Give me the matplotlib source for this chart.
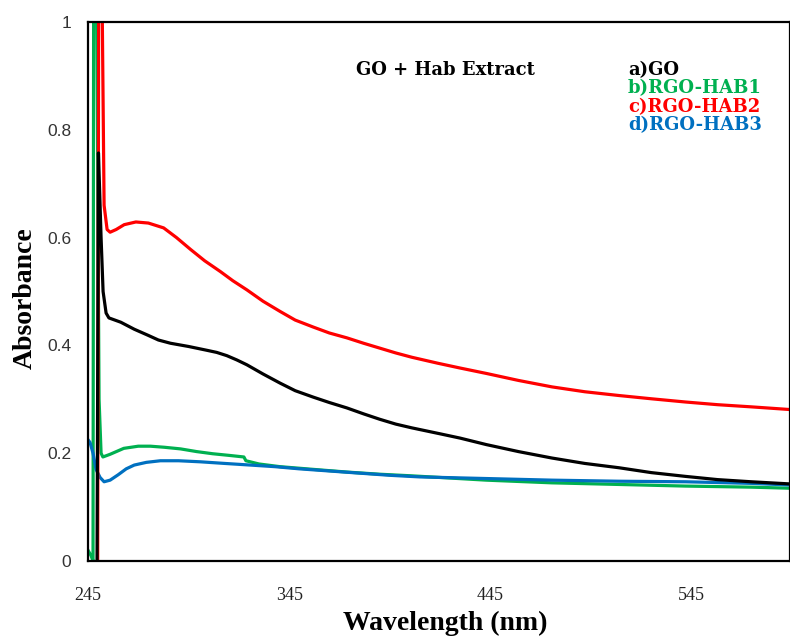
import matplotlib
matplotlib.use("Agg")
import matplotlib.pyplot as plt

# Wavelength (nm) / absorbance
go_wl = [249.5, 250.2, 251.5, 252.5, 254.0, 255.4, 261.3, 268.0, 274.7, 280.0, 286.0, 295.0,
         304.0, 309.0, 314.0, 319.0, 324.0, 332.0, 340.5, 348.0, 357.0, 365.0, 373.7, 382.0,
         390.0, 398.0, 406.0, 420.0, 430.0, 443.0, 459.0, 475.7, 492.0, 509.0, 525.0, 542.0,
         558.0, 574.7, 594.0]
go_abs = [0.0, 0.757, 0.60, 0.50, 0.46, 0.451, 0.443, 0.430, 0.419, 0.410, 0.404, 0.398,
          0.391, 0.387, 0.381, 0.373, 0.364, 0.347, 0.330, 0.316, 0.304, 0.294, 0.284, 0.273,
          0.263, 0.254, 0.247, 0.236, 0.228, 0.216, 0.203, 0.191, 0.181, 0.173, 0.164, 0.157,
          0.151, 0.147, 0.143]

hab1_wl = [245.0, 246.5, 247.5, 247.8, 249.3, 250.5, 251.5, 252.4, 256.0, 262.8, 270.0, 276.0,
           283.0, 291.0, 299.0, 307.0, 315.0, 322.5, 323.5, 330.0, 340.5, 357.0, 373.7, 390.0,
           406.0, 443.0, 475.7, 509.0, 542.0, 575.0, 594.0]
hab1_abs = [0.02, 0.01, 0.0, 1.05, 1.05, 0.30, 0.20, 0.193, 0.198, 0.209, 0.213, 0.213,
            0.211, 0.208, 0.203, 0.199, 0.196, 0.193, 0.186, 0.180, 0.175, 0.170, 0.165, 0.161,
            0.158, 0.150, 0.145, 0.142, 0.139, 0.137, 0.135]

hab2_wl = [249.8, 250.3, 252.0, 253.0, 254.5, 256.0, 259.0, 263.0, 268.8, 275.0, 282.6, 289.0,
           296.0, 303.0, 310.8, 317.0, 324.0, 332.0, 340.5, 348.0, 357.0, 365.0, 373.7, 382.0,
           390.0, 398.0, 406.0, 418.8, 430.0, 443.0, 459.0, 475.7, 492.0, 509.0, 525.0, 542.0,
           558.0, 574.7, 594.0]
hab2_abs = [0.0, 1.05, 1.05, 0.66, 0.615, 0.610, 0.615, 0.624, 0.629, 0.627, 0.618, 0.600,
            0.578, 0.557, 0.537, 0.520, 0.503, 0.482, 0.463, 0.447, 0.434, 0.423, 0.414, 0.404,
            0.395, 0.386, 0.378, 0.367, 0.358, 0.348, 0.335, 0.323, 0.314, 0.307, 0.301, 0.295,
            0.290, 0.286, 0.281]

hab3_wl = [245.0, 246.0, 247.5, 249.0, 251.0, 253.0, 256.0, 260.0, 264.0, 268.0, 274.0, 281.0,
           290.0, 301.0, 313.0, 325.7, 338.0, 350.0, 365.0, 380.0, 395.0, 410.0, 443.0, 475.7,
           509.0, 542.0, 575.0, 594.0]
hab3_abs = [0.225, 0.22, 0.20, 0.17, 0.155, 0.147, 0.150, 0.160, 0.171, 0.178, 0.183, 0.186,
            0.186, 0.184, 0.181, 0.178, 0.175, 0.171, 0.167, 0.163, 0.159, 0.156, 0.153, 0.150,
            0.148, 0.147, 0.144, 0.141]

x_ticks = [245, 345, 445, 545]
y_ticks = [0, 0.2, 0.4, 0.6, 0.8, 1]
y_tick_labels = ["0", "0.2", "0.4", "0.6", "0.8", "1"]

legend_labels = ["a)GO", "b)RGO-HAB1", "c)RGO-HAB2", "d)RGO-HAB3"]
COLORS = {"go": "#000000", "hab1": "#00B050", "hab2": "#FF0000", "hab3": "#0070C0"}
SERIF = ["Liberation Serif", "DejaVu Serif"]
WIDE_SERIF = ["DejaVu Serif"]

fig = plt.figure(figsize=(7.9, 6.36), dpi=100)
ax = fig.add_axes([88 / 790, 1 - 561 / 636, 1 - 88 / 790, (561 - 22) / 636])

lw = 2.3
ax.plot(hab1_wl, hab1_abs, color=COLORS["hab1"], lw=lw)
ax.plot(hab3_wl, hab3_abs, color=COLORS["hab3"], lw=lw)
ax.plot(hab2_wl, hab2_abs, color=COLORS["hab2"], lw=lw)
ax.plot(go_wl, go_abs, color=COLORS["go"], lw=lw)

ax.set_xlim(245, 594)
ax.set_ylim(0, 1)
ax.set_xticks(x_ticks)
ax.set_xticklabels([str(t) for t in x_ticks], fontfamily=SERIF, fontsize=13, color="#222222")
ax.set_yticks(y_ticks)
ax.set_yticklabels(y_tick_labels, fontfamily="Liberation Sans", fontsize=12.5, color="#333333")
ax.tick_params(axis="both", length=0)
ax.tick_params(axis="x", pad=19)
ax.tick_params(axis="y", pad=12)
for spine in ax.spines.values():
    spine.set_linewidth(1.6)
    spine.set_color("black")

fig.text(445 / 790, 1 - 623 / 636, "Wavelength (nm)", fontfamily=SERIF, fontsize=20,
         fontweight="bold", ha="center", va="center")
fig.text(25 / 790, 1 - 298 / 636, "Absorbance", fontfamily=SERIF, fontsize=20,
         fontweight="bold", ha="center", va="center", rotation=90)

fig.text(445 / 790, 1 - 70 / 636, "GO + Hab Extract", fontfamily=WIDE_SERIF, fontsize=13,
         fontweight="bold", ha="center", va="center")

legend_colors = [COLORS["go"], COLORS["hab1"], COLORS["hab2"], COLORS["hab3"]]
for i, (label, color) in enumerate(zip(legend_labels, legend_colors)):
    fig.text(628 / 790, 1 - (70 + 18.3 * i) / 636, label, fontfamily=WIDE_SERIF, fontsize=13,
             fontweight="bold", color=color, ha="left", va="center")

fig.savefig("out.png", dpi=100)
